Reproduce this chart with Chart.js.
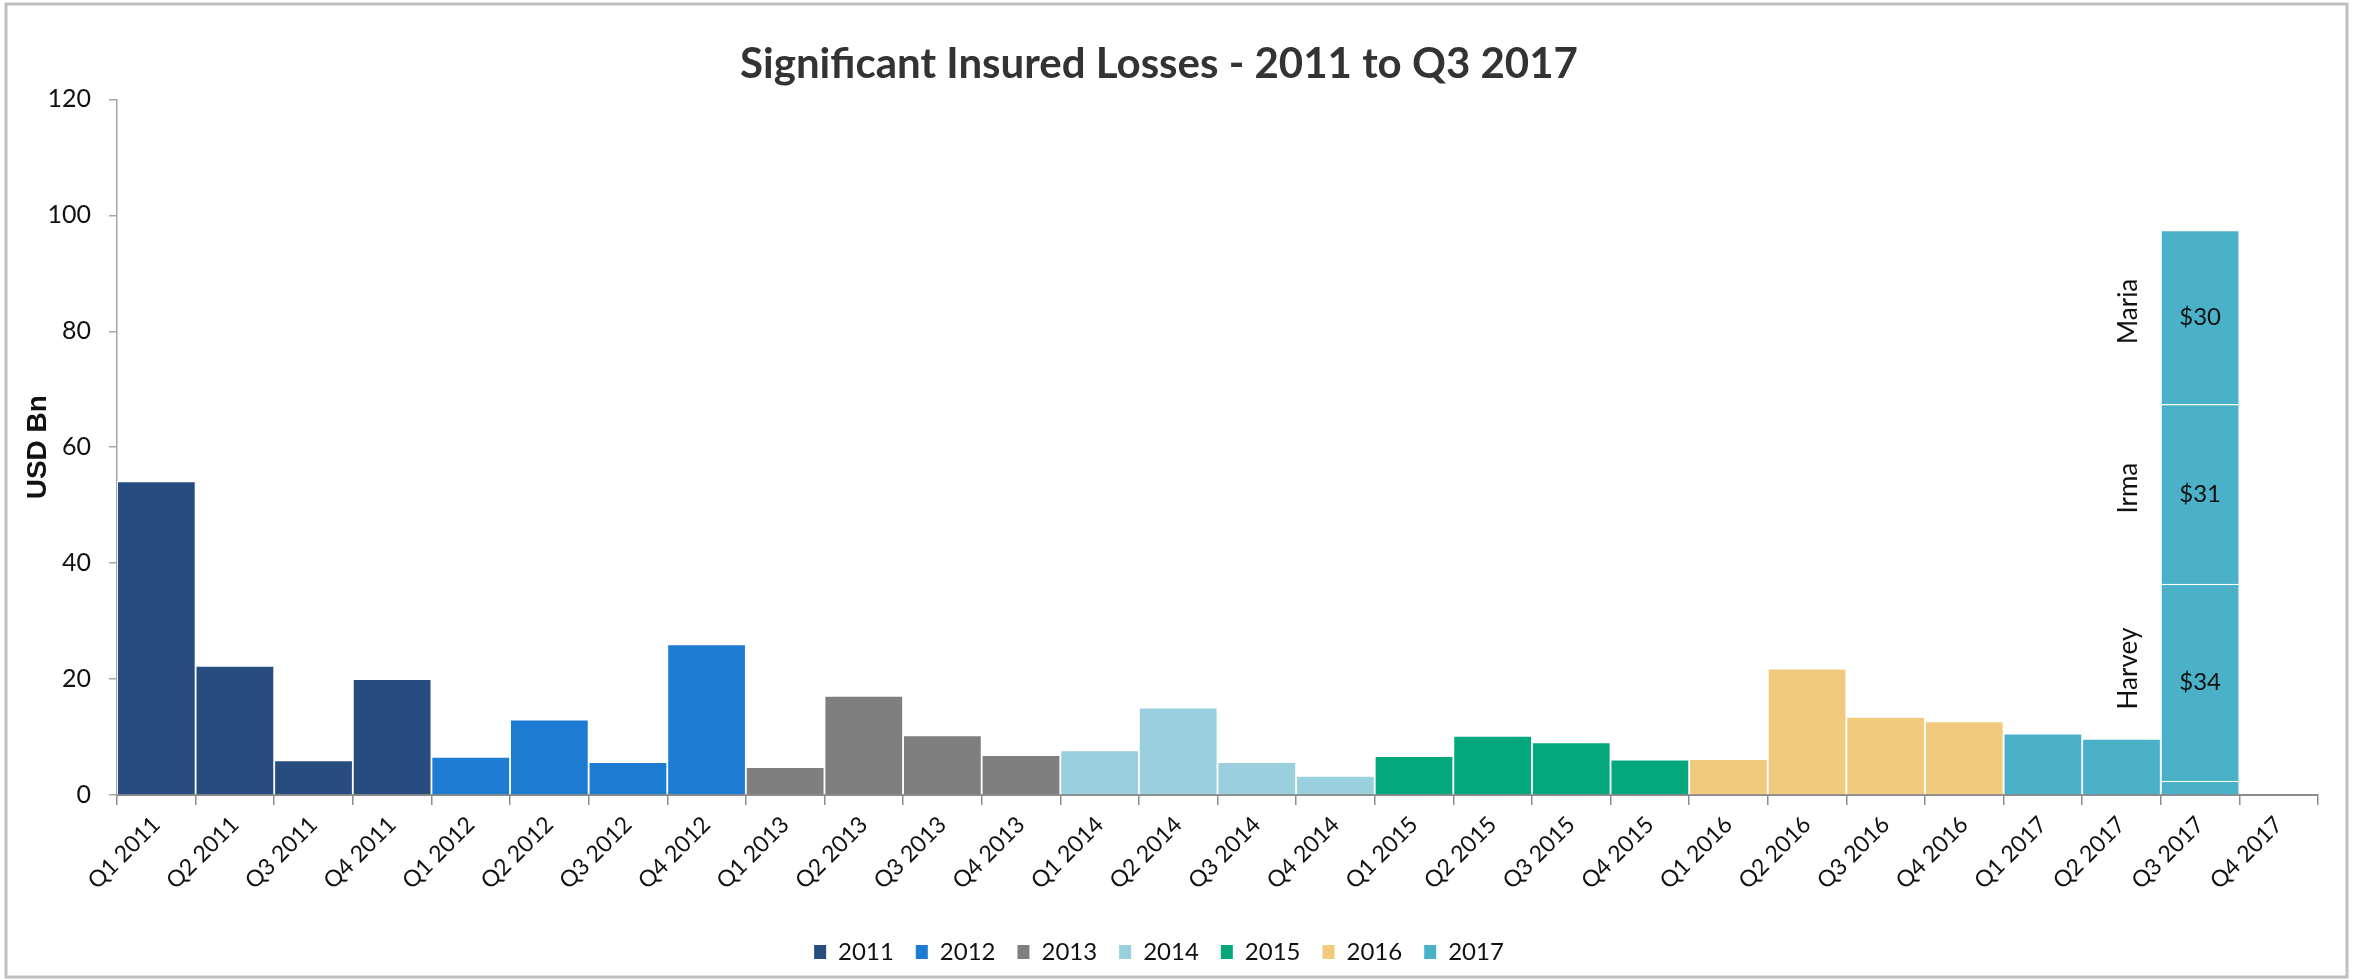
<!DOCTYPE html>
<html>
<head>
<meta charset="utf-8">
<script src="https://cdn.jsdelivr.net/npm/chart.js@4.4.1/dist/chart.umd.min.js"></script>
<style>
  html, body { margin: 0; padding: 0; background: #fff; overflow: hidden; }
  #wrap { position: relative; width: 2354px; height: 980px; }
</style>
</head>
<body>
<div id="wrap"><canvas id="losses"></canvas></div>
<script>
const quarters = [
  'Q1 2011', 'Q2 2011', 'Q3 2011', 'Q4 2011',
  'Q1 2012', 'Q2 2012', 'Q3 2012', 'Q4 2012',
  'Q1 2013', 'Q2 2013', 'Q3 2013', 'Q4 2013',
  'Q1 2014', 'Q2 2014', 'Q3 2014', 'Q4 2014',
  'Q1 2015', 'Q2 2015', 'Q3 2015', 'Q4 2015',
  'Q1 2016', 'Q2 2016', 'Q3 2016', 'Q4 2016',
  'Q1 2017', 'Q2 2017', 'Q3 2017', 'Q4 2017'
];
const years = ['2011', '2012', '2013', '2014', '2015', '2016', '2017'];
const yearColors = ['#264C80', '#1E7BD2', '#7F7F7F', '#9ACFDD', '#05A77C', '#F2CA7E', '#4AB1C9'];

// insured losses per quarter, USD bn
const losses2011 = [54.1, 22.3, 6.0, 20.0];
const losses2012 = [6.6, 13.0, 5.7, 26.0];
const losses2013 = [4.8, 17.1, 10.3, 6.9];
const losses2014 = [7.7, 15.1, 5.7, 3.3];
const losses2015 = [6.7, 10.2, 9.1, 6.1];
const losses2016 = [6.2, 21.8, 13.5, 12.7];
const losses2017 = [10.6, 9.7, 2.4];   // Q3 = other events, storms stacked on top

const storms = ['Harvey', 'Irma', 'Maria'];
const stormLosses = [34, 31, 30];

const lossesByYear = [losses2011, losses2012, losses2013, losses2014, losses2015, losses2016, losses2017];
const q3Index = quarters.indexOf('Q3 2017');

const yearSets = years.map((yr, i) => ({
  label: yr,
  data: quarters.map((q, j) => Math.floor(j / 4) === i ? (lossesByYear[i][j % 4] ?? null) : null),
  backgroundColor: yearColors[i]
}));

const stormSets = storms.map((name, k) => ({
  label: name,
  data: quarters.map((q, j) => j === q3Index ? stormLosses[k] : null),
  backgroundColor: yearColors[6]
}));

// storm names + values on the Q3 2017 stack
const stormLabels = {
  id: 'stormLabels',
  afterDatasetsDraw(chart) {
    const ctx = chart.ctx;
    ctx.save();
    ctx.fillStyle = '#111111';
    ctx.textAlign = 'center';
    ctx.textBaseline = 'middle';
    stormSets.forEach((ds, k) => {
      const bar = chart.getDatasetMeta(years.length + k).data[q3Index];
      const mid = (bar.y + bar.base) / 2;
      ctx.font = '24px Lato';
      ctx.fillText('$' + stormLosses[k], bar.x, mid);
      ctx.save();
      ctx.translate(bar.x - bar.width / 2 - 32, mid - (k === 0 ? 14 : 6));
      ctx.rotate(-Math.PI / 2);
      ctx.font = '26px Lato';
      ctx.fillText(storms[k], 0, 0);
      ctx.restore();
    });
    ctx.restore();
  }
};

const frame = {
  id: 'frame',
  afterDraw(chart) {
    const ctx = chart.ctx;
    ctx.save();
    ctx.strokeStyle = '#bfbfbf';
    ctx.lineWidth = 3;
    ctx.strokeRect(6, 4, 2341, 973);
    ctx.restore();
  }
};

Chart.defaults.font.family = 'Lato';

new Chart(document.getElementById('losses'), {
  type: 'bar',
  data: {
    labels: quarters,
    datasets: [...yearSets, ...stormSets]
  },
  options: {
    responsive: true,
    maintainAspectRatio: false,
    animation: false,
    layout: { padding: { left: 0, right: 36, top: 0, bottom: 6 } },
    datasets: {
      bar: {
        barPercentage: 1,
        categoryPercentage: 1,
        borderColor: '#ffffff',
        borderWidth: 1.25,
        borderSkipped: 'bottom'
      }
    },
    plugins: {
      tooltip: { enabled: false },
      title: {
        display: true,
        text: 'Significant Insured Losses - 2011 to Q3 2017',
        color: '#333333',
        font: { size: 42, weight: 'bold' },
        padding: { top: 39, bottom: 10 }
      },
      legend: {
        position: 'bottom',
        labels: {
          boxWidth: 12,
          boxHeight: 14,
          padding: 22,
          color: '#111111',
          font: { size: 24 },
          generateLabels: () => years.map((yr, i) => ({
            text: yr,
            fillStyle: yearColors[i],
            strokeStyle: yearColors[i],
            lineWidth: 0,
            hidden: false,
            datasetIndex: i,
            fontColor: '#111111'
          }))
        }
      }
    },
    scales: {
      x: {
        stacked: true,
        ticks: { color: '#111111', font: { size: 23 }, maxRotation: 45, minRotation: 45, padding: 6, autoSkip: false },
        grid: { drawOnChartArea: false, tickLength: 10, color: '#8c8c8c', lineWidth: 1.5, offset: true },
        border: { color: '#8c8c8c', width: 2 },
        afterFit(scale) { scale.height = 123; }
      },
      y: {
        stacked: true,
        min: 0,
        max: 120,
        ticks: { stepSize: 20, padding: 18, color: '#111111', font: { size: 25 } },
        grid: { drawOnChartArea: false, tickLength: 8, color: '#a6a6a6', lineWidth: 1.5 },
        border: { color: '#a6a6a6', width: 1.5 },
        title: {
          display: true,
          text: 'USD Bn',
          color: '#111111',
          font: { family: 'Liberation Sans', size: 28, weight: 'bold' },
          padding: { top: 21, bottom: 0 }
        },
        afterFit(scale) { scale.width = 117; }
      }
    }
  },
  plugins: [stormLabels, frame]
});
</script>
</body>
</html>
